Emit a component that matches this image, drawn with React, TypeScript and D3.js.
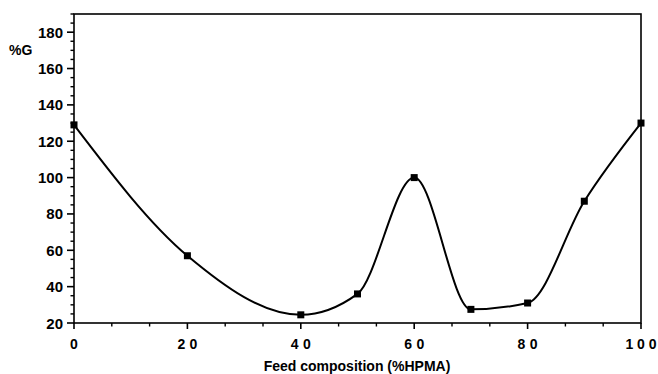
import React from "react";
import * as d3 from "d3";

const feedHPMA = [0, 20, 40, 50, 60, 70, 80, 90, 100];
const percentG = [129, 57, 24.5, 36, 100, 27.5, 31, 87, 130];
const xTickValues = [0, 20, 40, 60, 80, 100];
const yTickValues = [20, 40, 60, 80, 100, 120, 140, 160, 180];
const xTitle = "Feed composition (%HPMA)";
const yTitle = "%G";

const W = 658, H = 374;
const L = 74, R = 641, T = 14, B = 323;

export default function App() {
  const x = d3.scaleLinear().domain([0, 100]).range([L, R]);
  const y = d3.scaleLinear().domain([20, 190]).range([B, T]);
  const pts = feedHPMA.map((v, i) => [v, percentG[i]] as [number, number]);
  const line = d3
    .line<[number, number]>()
    .x((d) => x(d[0]))
    .y((d) => y(d[1]))
    .curve(d3.curveMonotoneX);
  const xMinor = d3.range(0, 100.01, 20 / 3).filter((v) => Math.abs(v / 20 - Math.round(v / 20)) > 0.01);
  const yMinor = d3.range(20, 190.01, 5).filter((v) => v % 20 !== 0);
  const font = "'Liberation Sans', Arial, Helvetica, sans-serif";
  return (
    <svg width={W} height={H} style={{ position: "absolute", left: 0, top: 0, background: "#fff" }}>
      <rect x={L} y={T} width={R - L} height={B - T} fill="none" stroke="#000" strokeWidth={1.6} />
      {yTickValues.map((v) => (
        <g key={"y" + v}>
          <line x1={L - 7} x2={L} y1={y(v)} y2={y(v)} stroke="#000" strokeWidth={1.6} />
          <text x={63} y={y(v) + 5.5} textAnchor="end" fontFamily={font} fontWeight="bold" fontSize={15}>
            {v}
          </text>
        </g>
      ))}
      {yMinor.map((v) => (
        <line key={"ym" + v} x1={L - 3.5} x2={L} y1={y(v)} y2={y(v)} stroke="#000" strokeWidth={1.4} />
      ))}
      {xTickValues.map((v) => {
        const n = String(v).length;
        const w = n === 1 ? undefined : n === 2 ? 20 : 31;
        return (
          <g key={"x" + v}>
            <line x1={x(v)} x2={x(v)} y1={B} y2={B + 6} stroke="#000" strokeWidth={1.6} />
            <text
              x={x(v) - (w ? w / 2 : 0)}
              y={349}
              textAnchor={w ? "start" : "middle"}
              fontFamily={font}
              fontWeight="bold"
              fontSize={14}
              textLength={w}
              lengthAdjust="spacing"
            >
              {v}
            </text>
          </g>
        );
      })}
      {xMinor.map((v) => (
        <line key={"xm" + v} x1={x(v)} x2={x(v)} y1={B} y2={B + 3.5} stroke="#000" strokeWidth={1.4} />
      ))}
      <path d={line(pts) || ""} fill="none" stroke="#000" strokeWidth={2} />
      {pts.map((d, i) => (
        <rect key={"p" + i} x={x(d[0]) - 3.5} y={y(d[1]) - 3.5} width={7} height={7} fill="#000" />
      ))}
      <text x={357} y={371} textAnchor="middle" fontFamily={font} fontWeight="bold" fontSize={14}>
        {xTitle}
      </text>
      <text x={9} y={55} fontFamily={font} fontWeight="bold" fontSize={14}>
        {yTitle}
      </text>
    </svg>
  );
}
